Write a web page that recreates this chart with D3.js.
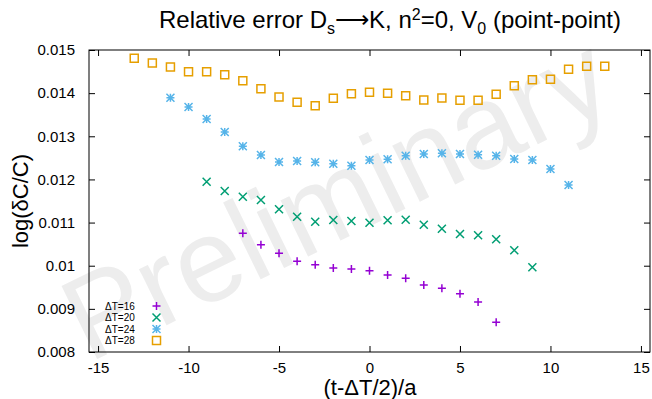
<!DOCTYPE html>
<html><head><meta charset="utf-8">
<script src="https://cdn.jsdelivr.net/npm/d3@7"></script>
<style>body{margin:0;background:#fff}svg{display:block;font-family:"Liberation Sans",Arial,Helvetica,sans-serif}</style>
</head><body><svg id="c" width="652" height="399"></svg>
<script>
const xTicks = [-15,-10,-5,0,5,10,15];
const xTickLabels = ["-15","-10","-5","0","5","10","15"];
const yTicks = [0.008,0.009,0.01,0.011,0.012,0.013,0.014,0.015];
const yTickLabels = ["0.008","0.009","0.01","0.011","0.012","0.013","0.014","0.015"];
const seriesNames = ["ΔT=16","ΔT=20","ΔT=24","ΔT=28"];
const seriesColors = ["#9400d3","#009e73","#56b4e9","#e69f00"];
const x16 = [-7,-6,-5,-4,-3,-2,-1,0,1,2,3,4,5,6,7];
const y16 = [0.010751,0.010487,0.010287,0.010102,0.010023,0.009947,0.009924,0.009884,0.009784,0.009708,0.009553,0.009476,0.009351,0.009159,0.008688];
const x20 = [-9,-8,-7,-6,-5,-4,-3,-2,-1,0,1,2,3,4,5,6,7,8,9];
const y20 = [0.011947,0.011732,0.011600,0.011523,0.011307,0.011136,0.011020,0.011059,0.011036,0.010997,0.011052,0.011066,0.010950,0.010858,0.010735,0.010705,0.010612,0.010357,0.009963];
const x24 = [-11,-10,-9,-8,-7,-6,-5,-4,-3,-2,-1,0,1,2,3,4,5,6,7,8,9,10,11];
const y24 = [0.013894,0.013679,0.013401,0.013099,0.012768,0.012566,0.012404,0.012427,0.012397,0.012364,0.012318,0.012450,0.012466,0.012550,0.012589,0.012605,0.012589,0.012573,0.012550,0.012473,0.012450,0.012242,0.011871];
const x28 = [-13,-12,-11,-10,-9,-8,-7,-6,-5,-4,-3,-2,-1,0,1,2,3,4,5,6,7,8,9,10,11,12,13];
const y28 = [0.014808,0.014699,0.014606,0.014497,0.014497,0.014427,0.014288,0.014103,0.013911,0.013788,0.013709,0.013880,0.013987,0.014019,0.013996,0.013941,0.013841,0.013887,0.013834,0.013834,0.013973,0.014173,0.014312,0.014321,0.014553,0.014622,0.014622];

const series = [
  {name:seriesNames[0], color:seriesColors[0], xs:x16, ys:y16, type:"plus"},
  {name:seriesNames[1], color:seriesColors[1], xs:x20, ys:y20, type:"cross"},
  {name:seriesNames[2], color:seriesColors[2], xs:x24, ys:y24, type:"star"},
  {name:seriesNames[3], color:seriesColors[3], xs:x28, ys:y28, type:"box"}
];

const svg = d3.select("#c");
const L=89, R=650, T=50, B=352;
const x = d3.scaleLinear().domain([-15.5,15.5]).range([L,R]);
const y = d3.scaleLinear().domain([0.008,0.015]).range([B,T]);

// watermark
svg.append("text").attr("transform","translate(340,206) rotate(-26)")
  .attr("text-anchor","middle").attr("dominant-baseline","middle")
  .attr("font-size",118).attr("fill","#ededed").text("Preliminary");

// title
const t = svg.append("text").attr("x",390).attr("y",28).attr("text-anchor","middle")
  .attr("font-size",24).attr("fill","#000");
t.append("tspan").text("Relative error D");
t.append("tspan").attr("font-size",16).attr("dy",6).text("s");
t.append("tspan").attr("dy",-6).text("⟶K, n");
t.append("tspan").attr("font-size",16).attr("dy",-8).text("2");
t.append("tspan").attr("dy",8).text("=0, V");
t.append("tspan").attr("font-size",16).attr("dy",6).text("0");
t.append("tspan").attr("dy",-6).text(" (point-point)");

// axes with inward ticks
const tl = 6;
const gB = svg.append("g").attr("transform",`translate(0,${B})`)
  .call(d3.axisBottom(x).tickValues(xTicks).tickSize(-tl).tickPadding(tl+4).tickFormat((d,i)=>xTickLabels[i]));
const gT = svg.append("g").attr("transform",`translate(0,${T})`)
  .call(d3.axisTop(x).tickValues(xTicks).tickSize(-tl).tickFormat(""));
const gL = svg.append("g").attr("transform",`translate(${L},0)`)
  .call(d3.axisLeft(y).tickValues(yTicks).tickSize(-tl).tickPadding(tl+8).tickFormat((d,i)=>yTickLabels[i]));
const gR = svg.append("g").attr("transform",`translate(${R},0)`)
  .call(d3.axisRight(y).tickValues(yTicks).tickSize(-tl).tickFormat(""));
[gB,gT,gL,gR].forEach(g=>{
  g.select(".domain").remove();
  g.selectAll(".tick line").attr("stroke","#000").attr("stroke-width",1);
  g.selectAll(".tick text").attr("font-size",15).attr("fill","#000")
   .attr("font-family","\"Liberation Sans\",Arial,sans-serif");
});
svg.append("rect").attr("x",L).attr("y",T).attr("width",R-L).attr("height",B-T)
  .attr("fill","none").attr("stroke","#000").attr("stroke-width",1);

// axis labels
svg.append("text").attr("x",370).attr("y",395).attr("text-anchor","middle")
  .attr("font-size",22).text("(t-ΔT/2)/a");
svg.append("text").attr("transform","translate(28,201) rotate(-90)").attr("text-anchor","middle")
  .attr("font-size",22).text("log(δC/C)");

// markers
const s = 4;
function marker(g, type, color){
  const p = d3.path();
  if(type==="plus"||type==="star"){ p.moveTo(-s,0);p.lineTo(s,0);p.moveTo(0,-s);p.lineTo(0,s); }
  if(type==="cross"||type==="star"){ p.moveTo(-s,-s);p.lineTo(s,s);p.moveTo(-s,s);p.lineTo(s,-s); }
  if(type==="box"){ p.rect(-s,-s,2*s,2*s); }
  g.append("path").attr("d",p.toString()).attr("fill","none").attr("stroke",color).attr("stroke-width",1.5);
}
series.forEach(sr=>{
  const g = svg.append("g");
  sr.xs.forEach((xv,i)=>{
    const m = g.append("g").attr("transform",`translate(${x(xv)},${y(sr.ys[i])})`);
    marker(m, sr.type, sr.color);
  });
});

// legend
const legY = [306,317.5,329,340.5];
series.forEach((sr,i)=>{
  svg.append("text").attr("x",105).attr("y",legY[i]).attr("dominant-baseline","central")
    .attr("font-size",10).text(sr.name);
  const m = svg.append("g").attr("transform",`translate(156.5,${legY[i]})`);
  marker(m, sr.type, sr.color);
});
</script></body></html>
